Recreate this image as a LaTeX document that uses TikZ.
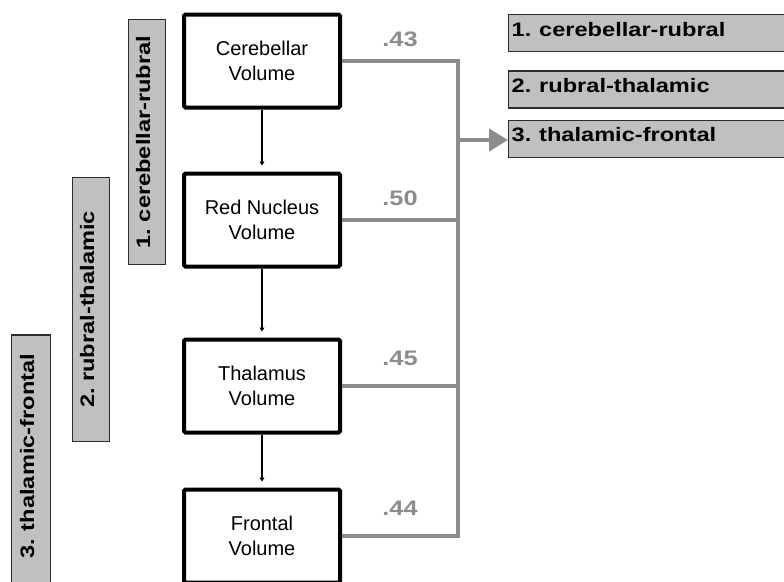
\documentclass[tikz,border=0pt]{standalone}
\usepackage{graphicx}
\usepackage{fontspec}
\setmainfont{Liberation Sans}
\usetikzlibrary{positioning}
\usetikzlibrary{arrows.meta}
\frenchspacing
\definecolor{linkgray}{RGB}{140,140,140}
\definecolor{tagfill}{RGB}{192,192,192}
\definecolor{tagedge}{RGB}{45,45,45}
\newcommand{\wide}[1]{\scalebox{1.21}[1]{#1}}
\tikzstyle{volume} = [rectangle, draw=black, line width=4pt,
rounded corners=1.5pt, minimum width=156pt, minimum height=93pt,
align=center, font=\fontsize{20}{25}\selectfont]
\tikzstyle{tag} = [rectangle, draw=tagedge, line width=1.3pt, fill=tagfill,
minimum height=37pt, text depth=8pt, inner xsep=3pt, inner ysep=0pt,
font=\fontsize{19.5}{22}\selectfont\bfseries]
\tikzstyle{link} = [line width=1.2pt, -{Triangle[length=4pt,width=5pt]}, shorten >=6pt]
\tikzstyle{corr} = [line width=4pt, draw=linkgray]
\tikzstyle{weight} = [text=linkgray, font=\fontsize{21}{21}\selectfont\bfseries]
\begin{document}
\begin{tikzpicture}[x=1pt, y=-1pt]
\useasboundingbox (0,0) rectangle (784,581);
\clip (0,0) rectangle (784,581);
% volume chain
\node[volume] (cereb) at (262,61) {Cerebellar\\Volume};
\node[volume, below=62pt of cereb] (rednuc) {Red Nucleus\\Volume};
\node[volume, below=69pt of rednuc] (thal) {Thalamus\\Volume};
\node[volume, below=53pt of thal] (front) {Frontal\\Volume};
\draw[link] (cereb) -- (rednuc);
\draw[link] (rednuc) -- (thal);
\draw[link] (thal) -- (front);
% pathway keys
\node[tag, anchor=north west, text width=290pt, align=left] (key1) at (508,14) {\wide{1. cerebellar-rubral}};
\node[tag, below=18pt of key1, text width=290pt, align=left] (key2) {\wide{2. rubral-thalamic}};
\node[tag, below=11pt of key2, text width=290pt, align=left] (key3) {\wide{3. thalamic-frontal}};
\node[tag, rotate=90, minimum width=245pt] (span1) at (147,142) {\wide{1. cerebellar-rubral}};
\node[tag, rotate=90, minimum width=264pt] (span2) at (91,309.5) {\wide{2. rubral-thalamic}};
\node[tag, rotate=90, minimum width=270pt, minimum height=38.7pt,
  text width=232pt, align=right] (span3) at (31,470) {\wide{3. thalamic-frontal}};
% correlations
\coordinate (hub) at (458,140);
\draw[corr] (cereb.east) -- node[weight, above=9pt] {\wide{.43}} (cereb.east -| hub)
  -- (front.east -| hub) -- node[weight, above=15pt] {\wide{.44}} (front.east);
\draw[corr] (rednuc.east) -- node[weight, above=9pt] {\wide{.50}} (rednuc.east -| hub);
\draw[corr] (thal.east) -- node[weight, above=15pt] {\wide{.45}} (thal.east -| hub);
\draw[corr, -{Triangle[length=19pt,width=22pt]}] (hub) -- (hub -| key3.west);
\end{tikzpicture}
\end{document}
